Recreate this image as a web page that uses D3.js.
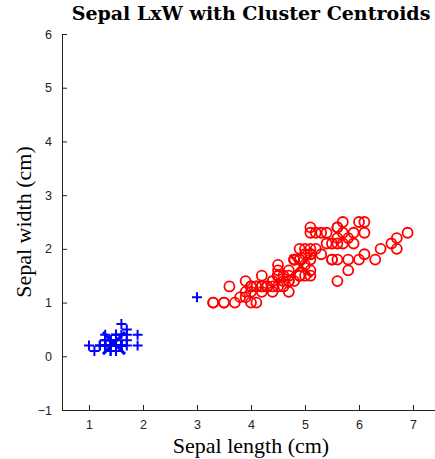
<!DOCTYPE html>
<html>
<head>
<meta charset="utf-8">
<script src="https://cdn.jsdelivr.net/npm/d3@7"></script>
<style>
  body { margin: 0; background: #fff; }
  svg { display: block; }
</style>
</head>
<body>
<div id="chart"></div>
<script>
// cluster 1 (blue +)
var c1Length = [1.4,1.4,1.3,1.5,1.4,1.7,1.4,1.5,1.4,1.5,1.5,1.6,1.4,1.1,1.2,1.5,1.3,1.4,1.7,1.5,
  1.7,1.5,1.0,1.7,1.9,1.6,1.6,1.5,1.4,1.6,1.6,1.5,1.5,1.4,1.5,1.2,1.3,1.4,1.3,1.5,
  1.3,1.3,1.3,1.6,1.9,1.4,1.6,1.4,1.5,1.4,3.0];
var c1Width = [0.2,0.2,0.2,0.2,0.2,0.4,0.3,0.2,0.2,0.1,0.2,0.2,0.1,0.1,0.2,0.4,0.4,0.3,0.3,0.3,
  0.2,0.4,0.2,0.5,0.2,0.2,0.4,0.2,0.2,0.2,0.2,0.4,0.1,0.2,0.2,0.2,0.2,0.1,0.2,0.2,
  0.3,0.3,0.2,0.6,0.4,0.3,0.2,0.2,0.2,0.2,1.1];

// cluster 2 (red o)
var c2Length = [4.7,4.5,4.9,4.0,4.6,4.5,4.7,3.3,4.6,3.9,3.5,4.2,4.0,4.7,3.6,4.4,4.5,4.1,4.5,3.9,
  4.8,4.0,4.9,4.7,4.3,4.4,4.8,5.0,4.5,3.5,3.8,3.7,3.9,5.1,4.5,4.5,4.7,4.4,4.1,4.0,
  4.4,4.6,4.0,3.3,4.2,4.2,4.2,4.3,4.1,
  6.0,5.1,5.9,5.6,5.8,6.6,4.5,6.3,5.8,6.1,5.1,5.3,5.5,5.0,5.1,5.3,5.5,6.7,6.9,5.0,
  5.7,4.9,6.7,4.9,5.7,6.0,4.8,4.9,5.6,5.8,6.1,6.4,5.6,5.1,5.6,6.1,5.6,5.5,4.8,5.4,
  5.6,5.1,5.1,5.9,5.7,5.2,5.0,5.2,5.4,5.1];
var c2Width = [1.4,1.5,1.5,1.3,1.5,1.3,1.6,1.0,1.3,1.4,1.0,1.5,1.0,1.4,1.3,1.4,1.5,1.0,1.5,1.1,
  1.8,1.3,1.5,1.2,1.3,1.4,1.4,1.7,1.5,1.0,1.1,1.0,1.2,1.6,1.5,1.6,1.5,1.3,1.3,1.3,
  1.2,1.4,1.2,1.0,1.3,1.2,1.3,1.3,1.3,
  2.5,1.9,2.1,1.8,2.2,2.1,1.7,1.8,1.8,2.5,2.0,1.9,2.1,2.0,2.4,2.3,1.8,2.2,2.3,1.5,
  2.3,2.0,2.0,1.8,2.1,1.8,1.8,1.8,2.1,1.6,1.9,2.0,2.2,1.5,1.4,2.3,2.4,1.8,1.8,2.1,
  2.4,2.3,1.9,2.3,2.5,2.3,1.9,2.0,2.3,1.8];

var xTicks = [1, 2, 3, 4, 5, 6, 7];
var yTicks = [-1, 0, 1, 2, 3, 4, 5, 6];

var width = 435, height = 459;
var margin = {top: 34, left: 62, bottom: 49, right: -5};  // axis runs past the window edge

var svg = d3.select('#chart').append('svg')
  .attr('width', width)
  .attr('height', height);

var xScale = d3.scaleLinear()
  .domain([0.5, 7.5])
  .range([margin.left, width - margin.right]);

var yScale = d3.scaleLinear()
  .domain([-1, 6])
  .range([height - margin.bottom, margin.top]);

var toPoints = (xs, ys) => xs.map(function(v, i) { return [v, ys[i]]; });
var blue = toPoints(c1Length, c1Width);
var red = toPoints(c2Length, c2Width);

var centroid = (pts) => [d3.mean(pts, function(d) { return d[0]; }), d3.mean(pts, function(d) { return d[1]; })];

// axes, ticks pointing inward
var xAxis = svg.append('g')
  .attr('transform', 'translate(0,' + yScale(-1) + ')')
  .call(d3.axisBottom(xScale).tickValues(xTicks).tickFormat(d3.format('d'))
    .tickSizeInner(-5).tickSizeOuter(0).tickPadding(10));

var yAxis = svg.append('g')
  .attr('transform', 'translate(' + margin.left + ',0)')
  .call(d3.axisLeft(yScale).tickValues(yTicks).tickFormat(d3.format('d'))
    .tickSizeInner(-5).tickSizeOuter(0).tickPadding(10));

[xAxis, yAxis].forEach(function(ax) {
  ax.select('.domain').attr('stroke', '#222').attr('stroke-width', 1);
  ax.selectAll('.tick line').attr('stroke', '#222');
  ax.selectAll('.tick text')
    .attr('fill', '#222')
    .style('font-family', '"Liberation Sans", Arial, sans-serif')
    .style('font-size', '12.5px');
});

var plot = svg.append('g');

// red circles
plot.selectAll('circle.c2')
  .data(red)
  .enter()
  .append('circle')
  .attr('class', 'c2')
  .attr('cx', function(d) { return xScale(d[0]); })
  .attr('cy', function(d) { return yScale(d[1]); })
  .attr('r', 5)
  .attr('fill', 'none')
  .attr('stroke', '#ff0000')
  .attr('stroke-width', 1.8);

// blue plus signs
var plus = 5;
plot.selectAll('path.c1')
  .data(blue)
  .enter()
  .append('path')
  .attr('class', 'c1')
  .attr('d', function(d) {
    var x = xScale(d[0]), y = yScale(d[1]);
    return 'M' + (x - plus) + ',' + y + 'H' + (x + plus) + 'M' + x + ',' + (y - plus) + 'V' + (y + plus);
  })
  .attr('stroke', '#0000ff')
  .attr('stroke-width', 2)
  .attr('fill', 'none');

// centroids as big x markers
var cents = [
  {p: centroid(blue.slice(0, 50)), color: '#0000ff'},
  {p: centroid(red), color: '#ff0000'}
];
var xs = 11;
plot.selectAll('path.cent')
  .data(cents)
  .enter()
  .append('path')
  .attr('class', 'cent')
  .attr('d', function(d) {
    var x = xScale(d.p[0]), y = yScale(d.p[1]);
    return 'M' + (x - xs) + ',' + (y - xs) + 'L' + (x + xs) + ',' + (y + xs) +
      'M' + (x - xs) + ',' + (y + xs) + 'L' + (x + xs) + ',' + (y - xs);
  })
  .attr('stroke', function(d) { return d.color; })
  .attr('stroke-width', 3)
  .attr('fill', 'none');

// title and labels
svg.append('text')
  .attr('x', 251)
  .attr('y', 20)
  .attr('text-anchor', 'middle')
  .style('font-family', '"DejaVu Serif", serif')
  .style('font-weight', 'bold')
  .style('font-size', '19px')
  .text('Sepal LxW with Cluster Centroids');

svg.append('text')
  .attr('x', 251)
  .attr('y', 453)
  .attr('text-anchor', 'middle')
  .style('font-family', '"Liberation Serif", serif')
  .style('font-size', '22px')
  .text('Sepal length (cm)');

svg.append('text')
  .attr('transform', 'translate(31,' + ((margin.top + height - margin.bottom) / 2) + ') rotate(-90)')
  .attr('text-anchor', 'middle')
  .style('font-family', '"Liberation Serif", serif')
  .style('font-size', '22px')
  .text('Sepal width (cm)');
</script>
</body>
</html>
